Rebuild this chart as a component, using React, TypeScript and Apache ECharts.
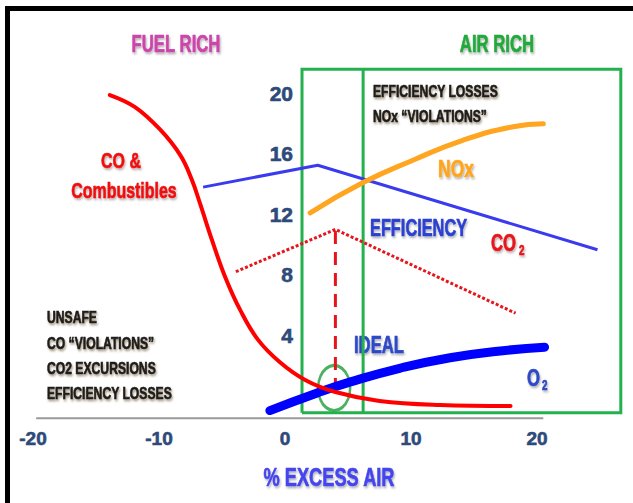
import React, { useEffect, useRef } from 'react';
import * as echarts from 'echarts';

// ---- data ----
const xTickLabels = [-20, -10, 0, 10, 20];
const yTickLabels = [4, 8, 12, 16, 20];

const coCombustibles = [
  [-13.9, 19.9], [-11.9, 19.1], [-9.9, 17.6], [-8.3, 15.9], [-7.4, 14.3],
  [-6.7, 12.6], [-5.8, 10.3], [-4.75, 7.85], [-3.55, 5.65], [-2.15, 3.7],
  [-0.4, 2.2], [1.6, 1.03], [4.0, 0.23], [7.5, -0.36], [12.3, -0.63], [17.9, -0.7],
];
const efficiency = [[-6.5, 13.8], [2.6, 15.25], [24.8, 9.65]];
const nox = [[2.0, 12.1], [6.2, 14.1], [10.2, 15.6], [14.1, 16.9], [18.1, 17.8], [20.5, 18.0]];
const co2 = [[-3.9, 8.2], [4.0, 11.0], [18.3, 5.45]];
const o2 = [[-1.2, -1.0], [2.5, 0.15], [5.2, 0.9], [9.1, 1.8], [13.1, 2.5], [17.1, 2.95], [20.6, 3.2]];
const idealLine = [[4.0, 10.9], [4.0, 0.7]];
const idealCircle = [[3.9, 0.5]];
const boxX = [1.35, 6.2, 26.65];
const boxY = [-1.15, 21.6];
const baseline = [[-19.75, -1.5], [20.5, -1.5]];

const FONT = "'Liberation Sans', Arial, sans-serif";
const TICK_COLOR = '#2E4A7A';
const GREEN = '#22B14C';
const NARROW = 0.76;
const TALL = 1.08;

function txt(text: string, x: number, y: number, size: number, fill: string, align = 'center', shadow = 'rgba(0,0,0,0.3)') {
  return {
    type: 'text',
    x,
    y,
    scaleX: NARROW,
    scaleY: TALL,
    silent: true,
    style: {
      text,
      fontSize: size,
      fontWeight: 'bold',
      fontFamily: FONT,
      fill,
      stroke: fill,
      lineWidth: 0.6,
      align,
      verticalAlign: 'middle',
      textAlign: align,
      textVerticalAlign: 'middle',
      textShadowColor: shadow,
      textShadowBlur: 2,
      textShadowOffsetX: 1,
      textShadowOffsetY: 2,
    },
  };
}

export default function App() {
  const ref = useRef<HTMLDivElement>(null);
  useEffect(() => {
    if (!ref.current) return;
    const chart = echarts.init(ref.current, undefined, { renderer: 'svg' });
    const lineBase = { type: 'line', showSymbol: false, symbol: 'none', silent: true, animation: false };
    const boxOutline = [
      [boxX[0], boxY[0]], [boxX[0], boxY[1]], [boxX[2], boxY[1]], [boxX[2], boxY[0]], [boxX[0], boxY[0]],
    ];
    const boxInner = [[boxX[1], boxY[0]], [boxX[1], boxY[1]]];
    const tickLabel = {
      fontWeight: 'bold', fontFamily: FONT, color: TICK_COLOR,
      textBorderColor: TICK_COLOR, textBorderWidth: 0.6,
    };
    chart.setOption({
      animation: false,
      backgroundColor: '#ffffff',
      grid: { left: 33, right: 7.8, top: 33.1, bottom: 47.1 },
      xAxis: {
        type: 'value', min: -20, max: 27, interval: 10, offset: -38,
        axisLine: { show: false }, axisTick: { show: false }, splitLine: { show: false },
        axisLabel: {
          ...tickLabel, margin: 11, fontSize: 19,
          formatter: (v: number) => (xTickLabels.includes(v) ? String(v) : ''),
        },
      },
      yAxis: {
        type: 'value', min: -4, max: 24, interval: 4, offset: -268, position: 'left',
        axisLine: { show: false }, axisTick: { show: false }, splitLine: { show: false },
        axisLabel: {
          ...tickLabel, margin: 8, fontSize: 21,
          formatter: (v: number) => (yTickLabels.includes(v) ? String(v) : ''),
        },
      },
      series: [
        { ...lineBase, name: 'axis', data: baseline, lineStyle: { color: '#9a9a9a', width: 2 } },
        { ...lineBase, name: 'box', data: boxOutline, lineStyle: { color: GREEN, width: 3, join: 'miter' } },
        { ...lineBase, name: 'boxInner', data: boxInner, lineStyle: { color: GREEN, width: 3 } },
        { ...lineBase, name: 'Efficiency', data: efficiency, lineStyle: { color: '#3A3AEE', width: 3 } },
        { ...lineBase, name: 'NOx', data: nox, smooth: true, lineStyle: { color: '#FFA51F', width: 5, cap: 'round' } },
        { ...lineBase, name: 'CO2', data: co2, lineStyle: { color: '#E8141B', width: 3, type: [3, 2] } },
        { ...lineBase, name: 'ideal', data: idealLine, lineStyle: { color: '#E8141B', width: 3, type: [13, 8] } },
        { ...lineBase, name: 'O2', data: o2, smooth: true, lineStyle: { color: '#0000FF', width: 9, cap: 'round' } },
        { ...lineBase, name: 'CO', data: coCombustibles, smooth: 0.4, lineStyle: { color: '#FF0000', width: 4, cap: 'round' } },
        {
          type: 'scatter', name: 'idealCircle', data: idealCircle, silent: true,
          symbol: 'circle', symbolSize: [32, 45],
          itemStyle: { color: 'rgba(0,0,0,0)', borderColor: '#1E9E3A', borderWidth: 3 },
        },
      ],
      graphic: [
        { type: 'rect', shape: { x: 5, y: 6, width: 628, height: 5 }, style: { fill: '#000' }, silent: true },
        { type: 'rect', shape: { x: 5, y: 6, width: 5, height: 497 }, style: { fill: '#000' }, silent: true },
        txt('FUEL RICH', 176, 43, 22, '#CC44AA'),
        txt('AIR RICH', 497, 43, 22, '#22A83A'),
        txt('CO &', 121, 160, 21, '#F01010'),
        txt('Combustibles', 124, 190, 21, '#F01010'),
        txt('EFFICIENCY LOSSES', 373, 91, 16, '#1a1a1a', 'left', 'rgba(90,60,30,0.55)'),
        txt('NOx \u201CVIOLATIONS\u201D', 373, 116, 16, '#1a1a1a', 'left', 'rgba(90,60,30,0.55)'),
        txt('NOx', 456, 169, 23, '#FFA51F'),
        txt('EFFICIENCY', 370, 228, 21.5, '#2B3FD0', 'left'),
        txt('CO', 491, 242, 22, '#E8141B', 'left'),
        txt('2', 519, 250, 13, '#E8141B', 'left'),
        txt('IDEAL', 379, 344, 22, '#2F49C8'),
        txt('O', 527, 377, 22, '#2F49C8', 'left'),
        txt('2', 542, 385, 13, '#2F49C8', 'left'),
        txt('UNSAFE', 47, 317, 16, '#1a1a1a', 'left', 'rgba(90,60,30,0.55)'),
        txt('CO \u201CVIOLATIONS\u201D', 47, 343, 16, '#1a1a1a', 'left', 'rgba(90,60,30,0.55)'),
        txt('CO2 EXCURSIONS', 47, 368, 16, '#1a1a1a', 'left', 'rgba(90,60,30,0.55)'),
        txt('EFFICIENCY LOSSES', 47, 393, 16, '#1a1a1a', 'left', 'rgba(90,60,30,0.55)'),
        txt('% EXCESS AIR', 329, 477, 24, '#4444EE'),
      ],
    });
    return () => chart.dispose();
  }, []);
  return <div ref={ref} style={{ position: 'fixed', left: 0, top: 0, width: 633, height: 503 }} />;
}
